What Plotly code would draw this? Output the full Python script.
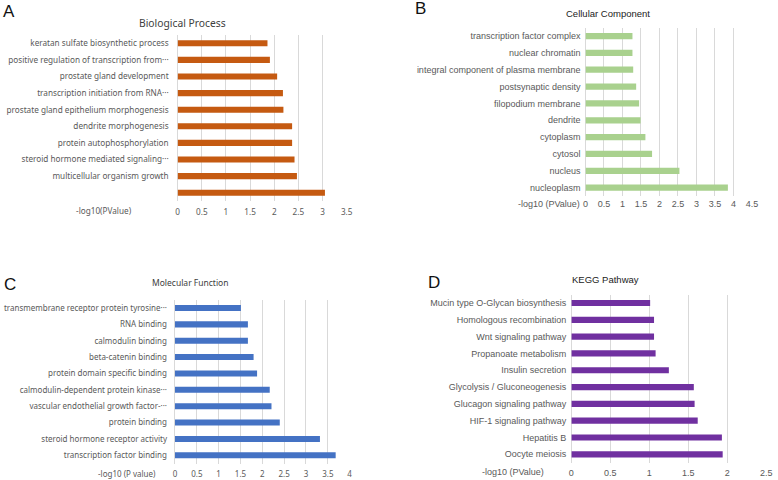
import plotly.graph_objects as go

W, H = 778, 480

# ---------------- data ----------------
bp_terms = ["keratan sulfate biosynthetic process",
            "positive regulation of transcription from\u00b7\u00b7\u00b7",
            "prostate gland development",
            "transcription initiation from RNA\u00b7\u00b7\u00b7",
            "prostate gland epithelium morphogenesis",
            "dendrite morphogenesis",
            "protein autophosphorylation",
            "steroid hormone mediated signaling\u00b7\u00b7\u00b7",
            "multicellular organism growth",
            ""]
bp_values = [1.86, 1.91, 2.06, 2.18, 2.19, 2.37, 2.37, 2.42, 2.47, 3.05]

cc_terms = ["transcription factor complex", "nuclear chromatin",
            "integral component of plasma membrane", "postsynaptic density",
            "filopodium membrane", "dendrite", "cytoplasm", "cytosol",
            "nucleus", "nucleoplasm"]
cc_values = [1.27, 1.27, 1.29, 1.37, 1.45, 1.49, 1.62, 1.80, 2.54, 3.85]

mf_terms = ["transmembrane receptor protein tyrosine\u00b7\u00b7\u00b7",
            "RNA binding", "calmodulin binding", "beta-catenin binding",
            "protein domain specific binding",
            "calmodulin-dependent protein kinase\u00b7\u00b7\u00b7",
            "vascular endothelial growth factor-\u00b7\u00b7\u00b7",
            "protein binding", "steroid hormone receptor activity",
            "transcription factor binding"]
mf_values = [1.51, 1.67, 1.67, 1.80, 1.88, 2.17, 2.21, 2.40, 3.32, 3.68]

kegg_terms = ["Mucin type O-Glycan biosynthesis", "Homologous recombination",
              "Wnt signaling pathway", "Propanoate metabolism",
              "Insulin secretion", "Glycolysis / Gluconeogenesis",
              "Glucagon signaling pathway", "HIF-1 signaling pathway",
              "Hepatitis B", "Oocyte meiosis"]
kegg_values = [1.01, 1.06, 1.06, 1.08, 1.25, 1.57, 1.58, 1.62, 1.93, 1.94]

# ---------------- layout helpers ----------------
def px_x(p):
    return p / W

def px_y(p):
    return 1 - p / H

FONT_A = "Noto Sans"
FONT_B = "Liberation Sans"
GREY = "#595959"
GRID = "#D9D9D9"

panels = [
    dict(terms=bp_terms, values=bp_values, color="#C55A11",
         x0=176.7, x1=347.7, top=35.0, bot=201.0, xmax=3.5,
         font=FONT_A, fs=8.2, ysoff=8, xsoff=5,
         title="Biological Process", tx=181.7, ty=23.3,
         tfs=10.3, tcol="#404040", lab="-log10(PValue)", lx=102.5, ly=210.7,
         letter="A", Lx=6, Ly=11),
    dict(terms=cc_terms, values=cc_values, color="#A9D18E",
         x0=589.3, x1=757.7, top=27.6, bot=196.1, xmax=4.5,
         font=FONT_B, fs=9, ysoff=4, xsoff=1,
         title="Cellular Component", tx=611.7, ty=13.3,
         tfs=9.5, tcol="#222222", lab="-log10 (PValue)", lx=552, ly=204,
         letter="B", Lx=422, Ly=8),
    dict(terms=mf_terms, values=mf_values, color="#4472C4",
         x0=174.0, x1=350.7, top=299.8, bot=463.5, xmax=4.0,
         font=FONT_A, fs=8.0, ysoff=7, xsoff=4,
         title="Molecular Function", tx=190, ty=282.7,
         tfs=8.5, tcol="#404040", lab="-log10 (P value)", lx=125, ly=473.3,
         letter="C", Lx=7, Ly=284),
    dict(terms=kegg_terms, values=kegg_values, color="#7030A0",
         x0=575.0, x1=772.3, top=294.6, bot=462.7, xmax=2.5,
         font=FONT_B, fs=9, ysoff=4, xsoff=3,
         title="KEGG Pathway", tx=609.7, ty=279.3,
         tfs=9.5, tcol="#222222", lab="-log10 (PValue)", lx=515.5, ly=472,
         letter="D", Lx=436, Ly=282.5),
]

fig = go.Figure()
annotations = []
layout_axes = {}

for i, p in enumerate(panels):
    n = i + 1
    xa = "x" if n == 1 else f"x{n}"
    ya = "y" if n == 1 else f"y{n}"
    idx = list(range(len(p["terms"])))
    fig.add_trace(go.Bar(
        x=p["values"], y=idx, orientation="h", xaxis=xa, yaxis=ya,
        marker=dict(color=p["color"], line=dict(width=0)),
        width=0.37, showlegend=False, hoverinfo="x+text",
        text=p["terms"], textposition="none"))
    ticks = [v * 0.5 for v in range(int(p["xmax"] * 2) + 1)]
    layout_axes["xaxis" if n == 1 else f"xaxis{n}"] = dict(
        domain=[px_x(p["x0"]), px_x(p["x1"])], anchor=ya,
        range=[0, p["xmax"]], tickvals=ticks,
        ticktext=[("%g" % t) for t in ticks],
        showgrid=True, gridcolor=GRID, gridwidth=1,
        zeroline=True, zerolinecolor=GRID, zerolinewidth=1,
        showline=False, ticks="", ticklabelstandoff=p["xsoff"],
        tickfont=dict(family=p["font"], size=p["fs"], color=GREY),
        fixedrange=True)
    layout_axes["yaxis" if n == 1 else f"yaxis{n}"] = dict(
        domain=[px_y(p["bot"]), px_y(p["top"])], anchor=xa,
        range=[len(idx) - 0.5, -0.5], tickvals=idx, ticktext=p["terms"],
        showgrid=False, zeroline=False, showline=False, ticks="",
        ticklabelstandoff=p["ysoff"],
        tickfont=dict(family=p["font"], size=p["fs"], color=GREY),
        fixedrange=True)
    annotations.append(dict(
        text=p["title"], x=px_x(p["tx"]), y=px_y(p["ty"]), xref="paper",
        yref="paper", showarrow=False, xanchor="center", yanchor="middle",
        font=dict(family=p["font"], size=p["tfs"], color=p["tcol"])))
    annotations.append(dict(
        text=p["lab"], x=px_x(p["lx"]), y=px_y(p["ly"]), xref="paper",
        yref="paper", showarrow=False, xanchor="center", yanchor="middle",
        font=dict(family=p["font"], size=p["fs"], color=GREY)))
    annotations.append(dict(
        text=p["letter"], x=px_x(p["Lx"]), y=px_y(p["Ly"]), xref="paper",
        yref="paper", showarrow=False, xanchor="center", yanchor="middle",
        font=dict(family="Liberation Sans", size=17, color="#111111")))

fig.update_layout(
    width=W, height=H, margin=dict(l=0, r=0, t=0, b=0),
    paper_bgcolor="white", plot_bgcolor="white",
    bargap=0.63, annotations=annotations, **layout_axes)

fig.write_html("out.html", config={"displayModeBar": False},
               post_script="document.body.style.margin='0px';"
                           "document.body.style.overflow='hidden';")
